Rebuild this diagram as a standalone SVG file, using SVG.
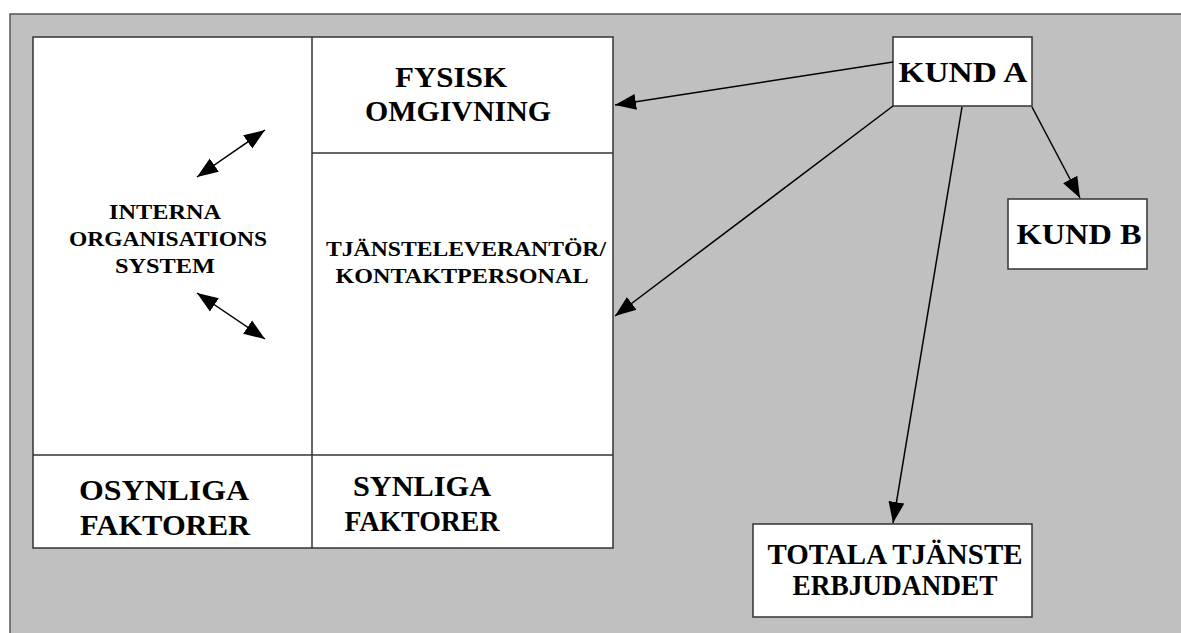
<svg xmlns="http://www.w3.org/2000/svg" width="1181" height="633" viewBox="0 0 1181 633">
<defs>
<style>
.box{fill:#fff;stroke:#333;stroke-width:1.5}
.ln{stroke:#333;stroke-width:1.5;fill:none}
.t{font-family:"Liberation Serif","Times New Roman",serif;font-weight:bold;fill:#000;text-anchor:middle}
.big{font-size:30px}
.sm{font-size:21px}
.md{font-size:22px}
.arr{stroke:#000;stroke-width:1.5;fill:none;marker-end:url(#ah)}
.darr{stroke:#000;stroke-width:1.5;fill:none;marker-end:url(#ah);marker-start:url(#ahs)}
</style>
<marker id="ah" markerUnits="userSpaceOnUse" markerWidth="22" markerHeight="18" refX="21" refY="9" orient="auto" viewBox="0 0 22 18">
<path d="M0,1 L21,9 L0,17 z" fill="#000"/>
</marker>
<marker id="ahs" markerUnits="userSpaceOnUse" markerWidth="22" markerHeight="18" refX="21" refY="9" orient="auto-start-reverse" viewBox="0 0 22 18">
<path d="M0,1 L21,9 L0,17 z" fill="#000"/>
</marker>
</defs>
<rect x="0" y="0" width="1181" height="633" fill="#fff"/>
<rect x="10" y="14" width="1180" height="630" fill="#c0c0c0" stroke="#555" stroke-width="1.5"/>

<g id="table">
<rect class="box" x="33" y="37" width="580" height="511"/>
<line class="ln" x1="312" y1="37" x2="312" y2="548"/>
<line class="ln" x1="312" y1="153" x2="613" y2="153"/>
<line class="ln" x1="33" y1="455" x2="613" y2="455"/>
</g>

<g id="fysisk">
<text class="t big" x="451" y="87" textLength="112" lengthAdjust="spacingAndGlyphs">FYSISK</text>
<text class="t big" x="458" y="121" textLength="186" lengthAdjust="spacingAndGlyphs">OMGIVNING</text>
</g>

<g id="interna">
<text class="t sm" x="165" y="219" textLength="112" lengthAdjust="spacingAndGlyphs">INTERNA</text>
<text class="t sm" x="168" y="246" textLength="198" lengthAdjust="spacingAndGlyphs">ORGANISATIONS</text>
<text class="t sm" x="165" y="273" textLength="100" lengthAdjust="spacingAndGlyphs">SYSTEM</text>
</g>

<g id="tjanste">
<text class="t md" x="466" y="256" textLength="280" lengthAdjust="spacingAndGlyphs">TJÄNSTELEVERANTÖR/</text>
<text class="t md" x="462" y="283" textLength="253" lengthAdjust="spacingAndGlyphs">KONTAKTPERSONAL</text>
</g>

<g id="osynliga">
<text class="t big" x="164" y="500" textLength="170" lengthAdjust="spacingAndGlyphs">OSYNLIGA</text>
<text class="t big" x="165" y="535" textLength="170" lengthAdjust="spacingAndGlyphs">FAKTORER</text>
</g>

<g id="synliga">
<text class="t big" x="422" y="496" textLength="138" lengthAdjust="spacingAndGlyphs">SYNLIGA</text>
<text class="t big" x="422" y="531" textLength="155" lengthAdjust="spacingAndGlyphs">FAKTORER</text>
</g>

<g id="kundA">
<rect class="box" x="893" y="37" width="139" height="69"/>
<text class="t big" x="963" y="82" textLength="129" lengthAdjust="spacingAndGlyphs">KUND A</text>
</g>

<g id="kundB">
<rect class="box" x="1008" y="199" width="139" height="70"/>
<text class="t big" x="1079" y="244" textLength="125" lengthAdjust="spacingAndGlyphs">KUND B</text>
</g>

<g id="totala">
<rect class="box" x="753" y="524" width="279" height="93"/>
<text class="t big" x="895" y="564" textLength="255" lengthAdjust="spacingAndGlyphs">TOTALA TJÄNSTE</text>
<text class="t big" x="895" y="595" textLength="205" lengthAdjust="spacingAndGlyphs">ERBJUDANDET</text>
</g>

<g id="connectors">
<line class="arr" x1="893" y1="62" x2="615" y2="105"/>
<line class="arr" x1="893" y1="106" x2="615" y2="316"/>
<line class="arr" x1="962" y1="107" x2="893" y2="523"/>
<line class="arr" x1="1032" y1="107" x2="1080" y2="198"/>
<line class="darr" x1="197" y1="177" x2="265" y2="130"/>
<line class="darr" x1="197" y1="293" x2="265" y2="339"/>
</g>
</svg>
